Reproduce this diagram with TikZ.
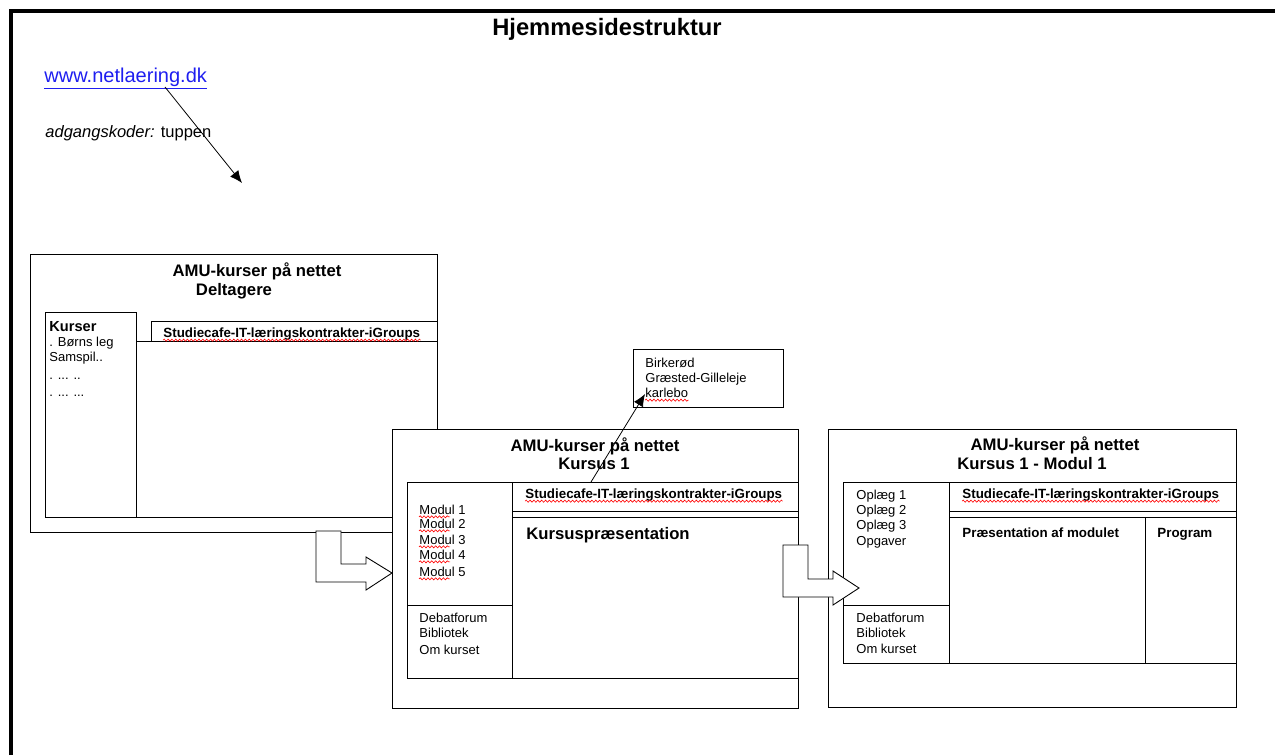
\documentclass[tikz,border=0pt]{standalone}
\usepackage{fontspec}
\setmainfont{Liberation Sans}
\usetikzlibrary{arrows.meta,decorations.pathmorphing}

\begin{document}
\begin{tikzpicture}[x=0.02cm, y=-0.02cm, line width=0.5pt, >={Latex[length=7pt,width=6pt]},
		frame/.style={draw, fill=white},
		boxhead/.style={font=\fontsize{9.5}{11}\selectfont\bfseries, anchor=base, inner sep=0pt},
		tabtext/.style={font=\fontsize{7.6}{9}\selectfont\bfseries, anchor=base west, inner sep=0pt},
		item/.style={font=\fontsize{7.4}{9}\selectfont, anchor=base west, inner sep=0pt},
		spell/.style={draw=red, line width=0.35pt, decorate, decoration={snake, amplitude=0.6pt, segment length=2.2pt}},
		bigarrow/.style={draw, fill=white}]
	\definecolor{linkblue}{RGB}{30, 30, 240}
	\useasboundingbox (0,0) rectangle (1275,755);
	\draw[line width=2pt] (11,755) -- (11,11) -- (1275,11);
	\node[anchor=base, inner sep=0pt, font=\fontsize{13.5}{16}\selectfont\bfseries] (title) at (607,35) {Hjemmesidestruktur};
	\node[anchor=base west, inner sep=0pt, text=linkblue, font=\fontsize{11.4}{13}\selectfont] (link) at (44,82) {\underline{www.netlaering.dk}};
	\node[anchor=base west, inner sep=0pt, font=\fontsize{9.4}{11}\selectfont] (code) at (45,137) {\textit{adgangskoder:} tuppen};
	\coordinate (linkfoot) at (165,87);
	\coordinate (entry) at (242,183);
	\draw[->, line width=0.45pt] (linkfoot) -- (entry);
	% Deltagere
	\begin{scope}[shift={(30,254)}]
		\draw[frame] (0,0) rectangle (407,278);
		\draw (15,58) rectangle (106,263);
		\draw (106,263) -- (407,263);
		\draw (121,87) -- (121,67) -- (407,67);
		\draw (106,87) -- (407,87);
		\node[boxhead] (dhead) at (227,22) {AMU-kurser på nettet};
		\node[boxhead] (dsub) at (204,41) {Deltagere};
		\node[tabtext] (dtab) at (133,83) {Studiecafe-IT-læringskontrakter-iGroups};
		\node[item, font=\fontsize{8.3}{10}\selectfont\bfseries] (kurser) at (19,77) {Kurser};
		\node[item] (kurs1) at (19,92) {. Børns leg};
		\node[item] (kurs2) at (19,107) {Samspil..};
		\node[item] (kurs3) at (19,125) {. ... ..};
		\node[item] (kurs4) at (19,142) {. ... ...};
	\end{scope}
	% Kursus 1
	\begin{scope}[shift={(392,429)}]
		\draw[frame] (0,0) rectangle (406,279);
		\draw (15,53) rectangle (406,249);
		\draw (120,53) -- (120,249);
		\draw (15,176) -- (120,176);
		\draw (120,82) -- (406,82);
		\draw (120,88) -- (406,88);
		\node[boxhead] (khead) at (203,22) {AMU-kurser på nettet};
		\node[boxhead] (ksub) at (202,40) {Kursus 1};
		\node[tabtext] (ktab) at (133,69) {Studiecafe-IT-læringskontrakter-iGroups};
		\node[item] (mod1) at (27,85) {Modul 1};
		\node[item] (mod2) at (27,99) {Modul 2};
		\node[item] (mod3) at (27,115) {Modul 3};
		\node[item] (mod4) at (27,130) {Modul 4};
		\node[item] (mod5) at (27,147) {Modul 5};
		\node[item] (kforum) at (27,193) {Debatforum};
		\node[item] (kbib) at (27,208) {Bibliotek};
		\node[item] (kom) at (27,225) {Om kurset};
		\node[boxhead, anchor=base west] (kpres) at (134,110) {Kursuspræsentation};
		\coordinate (ktop) at (199,53);
	\end{scope}
	% steder
	\draw[frame] (633,349) rectangle (783,407);
	\node[item] (birk1) at (645,367) {Birkerød};
	\node[item] (birk2) at (645,382) {Græsted-Gilleleje};
	\node[item] (birk3) at (645,397) {karlebo};
	\coordinate (birktip) at (645,394);
	\draw[->, line width=0.45pt] (ktop) -- (birktip);
	\draw[bigarrow] (316,531) -- (341,531) -- (341,564) -- (366,564) -- (366,557) -- (392,573) -- (366,590) -- (366,582) -- (316,582) -- cycle;
	% Kursus 1 - Modul 1
	\begin{scope}[shift={(828,429)}]
		\draw[frame] (0,0) rectangle (408,278);
		\draw (15,53) rectangle (408,234);
		\draw (121,53) -- (121,234);
		\draw (15,176) -- (121,176);
		\draw (121,82) -- (408,82);
		\draw (121,88) -- (408,88);
		\draw (317,88) -- (317,234);
		\node[boxhead] (mhead) at (227,21) {AMU-kurser på nettet};
		\node[boxhead] (msub) at (204,40) {Kursus 1 - Modul 1};
		\node[tabtext] (mtab) at (134,69) {Studiecafe-IT-læringskontrakter-iGroups};
		\node[item] (opl1) at (28,70) {Oplæg 1};
		\node[item] (opl2) at (28,85) {Oplæg 2};
		\node[item] (opl3) at (28,100) {Oplæg 3};
		\node[item] (opg) at (28,116) {Opgaver};
		\node[item] (mforum) at (28,193) {Debatforum};
		\node[item] (mbib) at (28,208) {Bibliotek};
		\node[item] (mom) at (28,224) {Om kurset};
		\node[tabtext] (mpres) at (134,108) {Præsentation af modulet};
		\node[tabtext] (mprog) at (329,108) {Program};
	\end{scope}
	\draw[bigarrow] (783,545) -- (808,545) -- (808,579) -- (833,579) -- (833,571) -- (859,588) -- (833,605) -- (833,597) -- (783,597) -- cycle;
	\draw[spell] ([yshift=-1.8pt]dtab.base west) -- ([yshift=-1.8pt]dtab.base east);
	\draw[spell] ([yshift=-1.8pt]ktab.base west) -- ([yshift=-1.8pt]ktab.base east);
	\draw[spell] ([yshift=-1.8pt]mtab.base west) -- ([yshift=-1.8pt]mtab.base east);
	\draw[spell] ([yshift=-1.8pt]birk3.base west) -- ([yshift=-1.8pt]birk3.base east);
	\draw[spell] ([yshift=-1.6pt]mod1.base west) -- +(31,0);
	\draw[spell] ([yshift=-1.6pt]mod2.base west) -- +(31,0);
	\draw[spell] ([yshift=-1.6pt]mod3.base west) -- +(31,0);
	\draw[spell] ([yshift=-1.6pt]mod4.base west) -- +(31,0);
	\draw[spell] ([yshift=-1.6pt]mod5.base west) -- +(31,0);
\end{tikzpicture}
\end{document}
